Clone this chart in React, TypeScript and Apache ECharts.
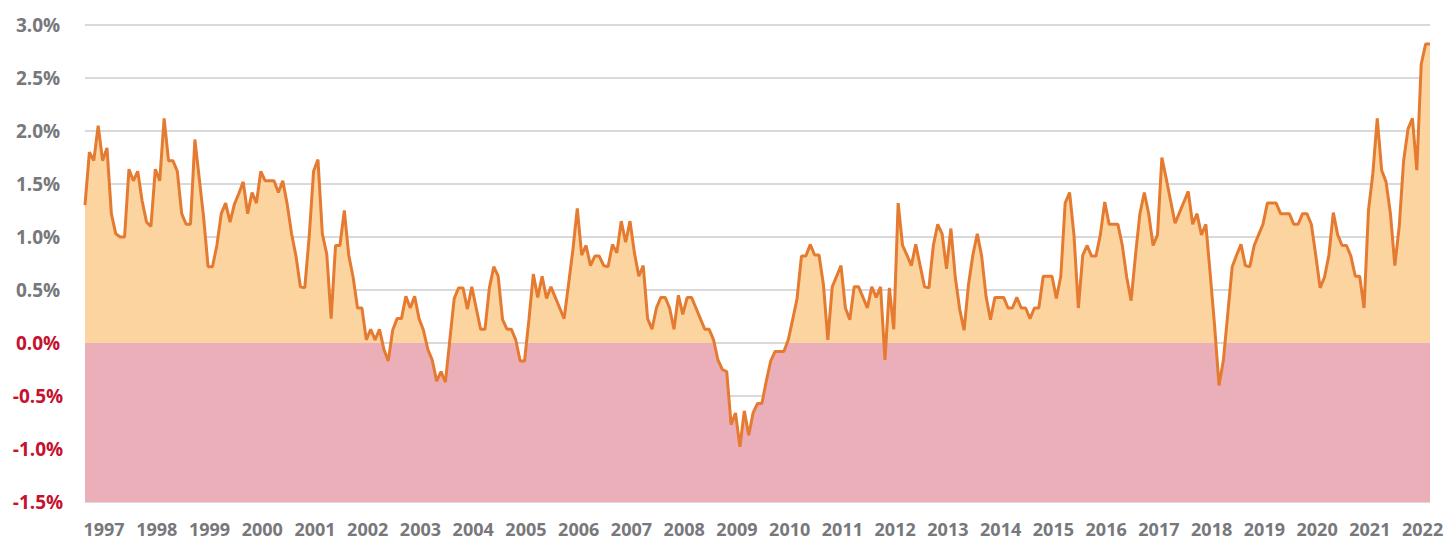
import React, { useEffect, useRef } from "react";
import * as echarts from "echarts";

// Monthly series, starting August 1996
const START_YEAR = 1996;
const START_MONTH = 8;

const values: number[] = [
  1.3, 1.8, 1.72, 2.05, 1.72, 1.84, 1.22, 1.03, 1.0, 1.0,
  1.64, 1.53, 1.62, 1.34, 1.14, 1.1, 1.64, 1.53, 2.12, 1.72,
  1.72, 1.62, 1.22, 1.12, 1.12, 1.92, 1.55, 1.18, 0.72, 0.72,
  0.92, 1.22, 1.32, 1.14, 1.31, 1.41, 1.52, 1.22, 1.42, 1.32,
  1.62, 1.53, 1.53, 1.53, 1.42, 1.53, 1.31, 1.03, 0.82, 0.53,
  0.52, 1.0, 1.62, 1.73, 1.03, 0.84, 0.23, 0.92, 0.92, 1.25,
  0.83, 0.62, 0.33, 0.33, 0.03, 0.13, 0.03, 0.13, -0.06, -0.17,
  0.12, 0.23, 0.23, 0.44, 0.33, 0.44, 0.23, 0.12, -0.06, -0.16,
  -0.36, -0.27, -0.37, 0.03, 0.42, 0.52, 0.52, 0.32, 0.53, 0.33,
  0.13, 0.13, 0.52, 0.72, 0.63, 0.22, 0.13, 0.13, 0.03, -0.17,
  -0.17, 0.22, 0.65, 0.43, 0.63, 0.42, 0.53, 0.43, 0.33, 0.23,
  0.55, 0.88, 1.27, 0.83, 0.92, 0.73, 0.82, 0.82, 0.73, 0.72,
  0.93, 0.85, 1.15, 0.95, 1.15, 0.85, 0.63, 0.73, 0.23, 0.13,
  0.33, 0.43, 0.43, 0.33, 0.13, 0.45, 0.27, 0.43, 0.43, 0.33,
  0.23, 0.13, 0.13, 0.03, -0.16, -0.25, -0.27, -0.77, -0.66, -0.98,
  -0.64, -0.87, -0.66, -0.57, -0.57, -0.36, -0.17, -0.08, -0.08, -0.08,
  0.03, 0.22, 0.42, 0.82, 0.82, 0.93, 0.83, 0.83, 0.55, 0.03,
  0.53, 0.63, 0.73, 0.33, 0.22, 0.53, 0.53, 0.43, 0.33, 0.53,
  0.43, 0.53, -0.16, 0.52, 0.13, 1.32, 0.92, 0.83, 0.73, 0.93,
  0.73, 0.53, 0.52, 0.92, 1.12, 1.03, 0.7, 1.08, 0.62, 0.32,
  0.12, 0.55, 0.83, 1.03, 0.82, 0.44, 0.22, 0.43, 0.43, 0.43,
  0.33, 0.33, 0.43, 0.33, 0.33, 0.23, 0.33, 0.33, 0.63, 0.63,
  0.63, 0.42, 0.63, 1.32, 1.42, 1.02, 0.33, 0.83, 0.92, 0.82,
  0.82, 1.02, 1.33, 1.12, 1.12, 1.12, 0.92, 0.62, 0.4, 0.83,
  1.22, 1.42, 1.22, 0.92, 1.02, 1.75, 1.55, 1.34, 1.13, 1.23,
  1.33, 1.43, 1.12, 1.22, 1.02, 1.12, 0.65, 0.16, -0.4, -0.16,
  0.28, 0.72, 0.83, 0.93, 0.73, 0.72, 0.92, 1.02, 1.12, 1.32,
  1.32, 1.32, 1.22, 1.22, 1.22, 1.12, 1.12, 1.22, 1.22, 1.12,
  0.83, 0.52, 0.62, 0.83, 1.23, 1.02, 0.92, 0.92, 0.82, 0.63,
  0.63, 0.33, 1.25, 1.6, 2.12, 1.63, 1.52, 1.22, 0.73, 1.1,
  1.72, 2.02, 2.12, 1.63, 2.63, 2.82, 2.82,
];

const months: string[] = values.map((_, i) => {
  const m0 = START_MONTH - 1 + i;
  const y = START_YEAR + Math.floor(m0 / 12);
  const m = (m0 % 12) + 1;
  return `${y}-${m < 10 ? "0" + m : m}`;
});

const Y_MIN = -1.5;
const Y_MAX = 3.0;
const Y_STEP = 0.5;

const GRID_TOP = 25;
const GRID_BOTTOM = 42;
const HEIGHT = 544;
const WIDTH = 1448;

const LINE_COLOR = "#E57A31";
const POS_FILL = "#FBD4A0";
const NEG_FILL = "#EBAFBA";
const GRAY = "#77787B";
const RED = "#C4122F";
const FONT = "'Open Sans', 'Noto Sans', sans-serif";

export default function App() {
  const ref = useRef<HTMLDivElement>(null);

  useEffect(() => {
    if (!ref.current) return;
    const chart = echarts.init(ref.current, null, { renderer: "svg" });
    const plotTop = GRID_TOP;
    const plotBottom = HEIGHT - GRID_BOTTOM;
    const zeroFrac = (Y_MAX - 0) / (Y_MAX - Y_MIN);
    const fill = new echarts.graphic.LinearGradient(
      0,
      plotTop,
      0,
      plotBottom,
      [
        { offset: 0, color: POS_FILL },
        { offset: zeroFrac, color: POS_FILL },
        { offset: zeroFrac, color: NEG_FILL },
        { offset: 1, color: NEG_FILL },
      ],
      true
    );

    chart.setOption({
      animation: false,
      grid: { left: 85, right: 18, top: GRID_TOP, bottom: GRID_BOTTOM, containLabel: false },
      xAxis: {
        type: "category",
        data: months,
        boundaryGap: false,
        axisLine: { show: false },
        axisTick: { show: false },
        splitLine: { show: false },
        axisLabel: {
          interval: (index: number, value: string) => value.endsWith("-01"),
          formatter: (value: string) => value.slice(0, 4),
          color: GRAY,
          fontFamily: FONT,
          fontWeight: "bold",
          fontSize: 18,
          margin: 18,
          padding: [0, 6, 0, 0],
        },
      },
      yAxis: {
        type: "value",
        min: Y_MIN,
        max: Y_MAX,
        interval: Y_STEP,
        axisLine: { show: false },
        axisTick: { show: false },
        splitLine: { lineStyle: { color: "#D9D9D9", width: 2 } },
        axisLabel: {
          formatter: (v: number) => v.toFixed(1) + "%",
          color: (v: any) => (Number(v) <= 0.0001 ? RED : GRAY),
          fontFamily: FONT,
          fontWeight: "bold",
          fontSize: 19,
          align: "center",
          margin: 47,
        },
      },
      series: [
        {
          type: "line",
          data: values,
          symbol: "none",
          lineStyle: { color: LINE_COLOR, width: 3 },
          itemStyle: { color: LINE_COLOR },
          areaStyle: { origin: "start", color: fill, opacity: 1 },
          z: 3,
        },
      ],
    });
    return () => chart.dispose();
  }, []);

  return (
    <div
      ref={ref}
      style={{ position: "absolute", left: 0, top: 0, width: WIDTH, height: HEIGHT }}
    />
  );
}
